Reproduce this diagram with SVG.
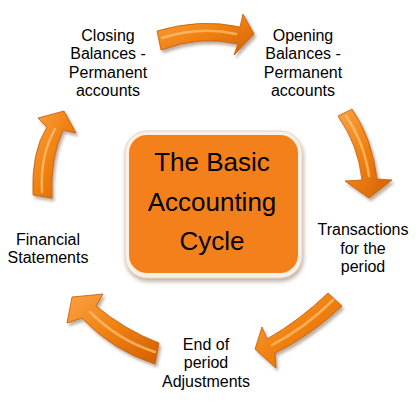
<svg xmlns="http://www.w3.org/2000/svg" width="419" height="405" viewBox="0 0 419 405">
<style>
.lbl{font-family:"Liberation Sans",Arial,sans-serif;font-size:16px;fill:#000;text-anchor:middle}
.ttl{font-family:"Liberation Sans",Arial,sans-serif;font-size:26px;fill:#000;text-anchor:middle}
.arrow{fill:url(#og);stroke:#c45a05;stroke-width:0.8;filter:url(#sh)}
.hl{fill:none;stroke:#ffc67a;stroke-width:2.5;stroke-linecap:round;opacity:0.7}
</style>
<defs>
<linearGradient id="og" x1="0" y1="0" x2="1" y2="1">
<stop offset="0" stop-color="#fba245"/>
<stop offset="0.5" stop-color="#f0800f"/>
<stop offset="1" stop-color="#d06000"/>
</linearGradient>
<filter id="sh" x="-20%" y="-20%" width="150%" height="150%">
<feDropShadow dx="2" dy="3" stdDeviation="1.8" flood-color="#6b4a2a" flood-opacity="0.45"/>
</filter>
<filter id="bsh" x="-10%" y="-10%" width="125%" height="125%">
<feDropShadow dx="1" dy="3" stdDeviation="2" flood-color="#7a5a40" flood-opacity="0.5"/>
</filter>
</defs>
<rect width="419" height="405" fill="#fff"/>
<g id="connectors">
<path class="arrow" d="M157,31 Q200,18 240,27 L243,14 L254,34 L234,55 L238,44 Q200,35 161,50 Z"/>
<path class="hl" d="M162,38 Q200,26 236,34"/>
<path class="arrow" d="M338,116 L352,109 Q372,138 377,179 L392,180 L369,198 L345,181 L362,180 Q358,144 338,116 Z"/>
<path class="hl" d="M346,116 Q364,142 369,176"/>
<path class="arrow" d="M328,293 L342,306 Q310,336 275,353 L276,368 L255,349 L262,327 L267,339 Q300,320 328,293 Z"/>
<path class="hl" d="M333,300 Q305,328 272,345"/>
<path class="arrow" d="M159,343 L155,364 Q112,350 82,318 L67,323 L72,297 L103,294 L96,306 Q125,330 159,343 Z"/>
<path class="hl" d="M155,352 Q118,340 90,312"/>
<path class="arrow" d="M52,198 L33,195 Q31,152 47,127 L38,118 L64,111 L76,133 L63,130 Q50,158 52,198 Z"/>
<path class="hl" d="M42,192 Q40,155 55,129"/>
</g>
<g id="center">
<rect x="125" y="131" width="177" height="147" rx="22" fill="#fbf0e6" stroke="#e2d2c2" stroke-width="1" filter="url(#bsh)"/>
<rect x="129" y="135" width="169" height="138" rx="18" fill="#f4801c"/>
<text class="ttl" x="212" y="171">The Basic</text>
<text class="ttl" x="212" y="211">Accounting</text>
<text class="ttl" x="212" y="250">Cycle</text>
</g>
<g id="closing">
<text class="lbl" x="108" y="41">Closing</text>
<text class="lbl" x="108" y="59">Balances -</text>
<text class="lbl" x="108" y="78">Permanent</text>
<text class="lbl" x="108" y="96">accounts</text>
</g>
<g id="opening">
<text class="lbl" x="303" y="41">Opening</text>
<text class="lbl" x="303" y="59">Balances -</text>
<text class="lbl" x="303" y="78">Permanent</text>
<text class="lbl" x="303" y="96">accounts</text>
</g>
<g id="transactions">
<text class="lbl" x="363" y="235">Transactions</text>
<text class="lbl" x="363" y="254">for the</text>
<text class="lbl" x="363" y="272">period</text>
</g>
<g id="adjustments">
<text class="lbl" x="206" y="350">End of</text>
<text class="lbl" x="206" y="368">period</text>
<text class="lbl" x="206" y="387">Adjustments</text>
</g>
<g id="statements">
<text class="lbl" x="48" y="245">Financial</text>
<text class="lbl" x="48" y="263">Statements</text>
</g>
</svg>
